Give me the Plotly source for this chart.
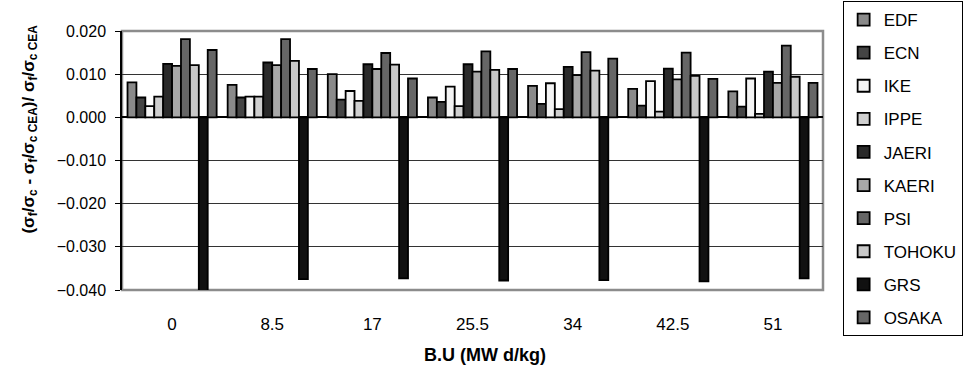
import plotly.graph_objects as go

categories = ["0", "8.5", "17", "25.5", "34", "42.5", "51"]

EDF = [0.0081, 0.0075, 0.0100, 0.0046, 0.0073, 0.0066, 0.0060]
ECN = [0.0046, 0.0046, 0.0041, 0.0036, 0.0031, 0.0027, 0.0025]
IKE = [0.0026, 0.0048, 0.0061, 0.0071, 0.0079, 0.0084, 0.0090]
IPPE = [0.0048, 0.0048, 0.0038, 0.0026, 0.0019, 0.0013, 0.0008]
JAERI = [0.0124, 0.0127, 0.0123, 0.0123, 0.0117, 0.0113, 0.0106]
KAERI = [0.0119, 0.0121, 0.0112, 0.0106, 0.0098, 0.0088, 0.0080]
PSI = [0.0181, 0.0181, 0.0149, 0.0153, 0.0151, 0.0150, 0.0166]
TOHOKU = [0.0121, 0.0131, 0.0122, 0.0110, 0.0108, 0.0096, 0.0094]
GRS = [-0.0404, -0.0375, -0.0373, -0.0378, -0.0377, -0.0380, -0.0373]
OSAKA = [0.0156, 0.0112, 0.0090, 0.0112, 0.0136, 0.0089, 0.0080]

series_names = ["EDF", "ECN", "IKE", "IPPE", "JAERI", "KAERI", "PSI", "TOHOKU", "GRS", "OSAKA"]
series_values = [EDF, ECN, IKE, IPPE, JAERI, KAERI, PSI, TOHOKU, GRS, OSAKA]
series_colors = ["#8a8a8a", "#444444", "#f4f4f4", "#cfcfcf", "#2a2a2a",
                 "#a8a8a8", "#666666", "#c8c8c8", "#111111", "#666666"]

x_title = "<b>B.U (MW d/kg)</b>"
y_title = ("<b>(σ<sub>f</sub>/σ<sub>c</sub> - σ<sub>f</sub>/σ<sub>c CEA</sub>)/ "
           "σ<sub>f</sub>/σ<sub>c CEA</sub></b>")

y_min, y_max = -0.04, 0.02
FONT = "Arial, Liberation Sans, sans-serif"

fig = go.Figure()
for name, vals, col in zip(series_names, series_values, series_colors):
    fig.add_trace(go.Bar(
        x=categories, y=vals, name=name, legendgroup=name,
        marker=dict(color=col, line=dict(color="#000000", width=1.8)),
    ))

zero_pos = (0 - y_min) / (y_max - y_min)

fig.update_layout(
    width=965, height=374,
    margin=dict(l=122, r=142, t=31, b=84, autoexpand=False),
    paper_bgcolor="white", plot_bgcolor="white",
    font=dict(family=FONT, size=16, color="black"),
    barmode="group", bargap=0.11, bargroupgap=0,
    showlegend=True,
    legend=dict(
        x=1.028, xanchor="left", y=1.1158, yanchor="top",
        bordercolor="black", borderwidth=1, bgcolor="white",
        font=dict(family=FONT, size=17, color="black"),
        traceorder="grouped", tracegroupgap=8,
        itemwidth=30, maxheight=374,
    ),
    xaxis=dict(
        type="category", categoryorder="array", categoryarray=categories,
        showgrid=False, zeroline=False, showline=False, ticks="",
        ticklabelstandoff=22,
        tickfont=dict(family=FONT, size=17, color="black"),
    ),
    xaxis2=dict(
        overlaying="x", anchor="free", position=zero_pos, side="bottom",
        range=[-0.5, 6.5], tickvals=[0.5, 1.5, 2.5, 3.5, 4.5, 5.5, 6.5],
        ticks="outside", ticklen=4, tickwidth=1, tickcolor="#555555",
        showticklabels=False, showgrid=False, zeroline=False, showline=False,
    ),
    xaxis3=dict(
        overlaying="x", anchor="free", position=zero_pos, side="bottom",
        range=[-0.5, 6.5], tickvals=[0.5, 1.5, 2.5, 3.5, 4.5, 5.5, 6.5],
        ticks="inside", ticklen=4, tickwidth=1, tickcolor="#555555",
        showticklabels=False, showgrid=False, zeroline=False, showline=False,
    ),
    yaxis=dict(
        range=[y_min, y_max], dtick=0.01, tickformat=".3f",
        showgrid=True, gridcolor="#333333", gridwidth=1,
        zeroline=True, zerolinecolor="#000000", zerolinewidth=1.5,
        showline=True, linecolor="#000000", linewidth=1.5,
        ticks="outside", ticklen=5, tickcolor="#000000",
        ticklabelstandoff=6,
        tickfont=dict(family=FONT, size=16, color="black"),
    ),
    shapes=[dict(type="rect", xref="paper", yref="paper", x0=0, x1=1, y0=0, y1=1,
                 line=dict(color="#8c8c8c", width=2.5), layer="below")],
    annotations=[
        dict(text=x_title, xref="paper", yref="paper", x=0.518, y=-0.251,
             xanchor="center", yanchor="middle", showarrow=False,
             font=dict(family=FONT, size=18, color="black")),
        dict(text=y_title, xref="paper", yref="paper", x=-0.131, y=0.62,
             xanchor="center", yanchor="middle", showarrow=False, textangle=-90,
             font=dict(family=FONT, size=17, color="black")),
    ],
)

fig.write_html("out.html",
               config={"displayModeBar": False},
               post_script="document.body.style.margin='0';document.body.style.overflow='hidden';")
